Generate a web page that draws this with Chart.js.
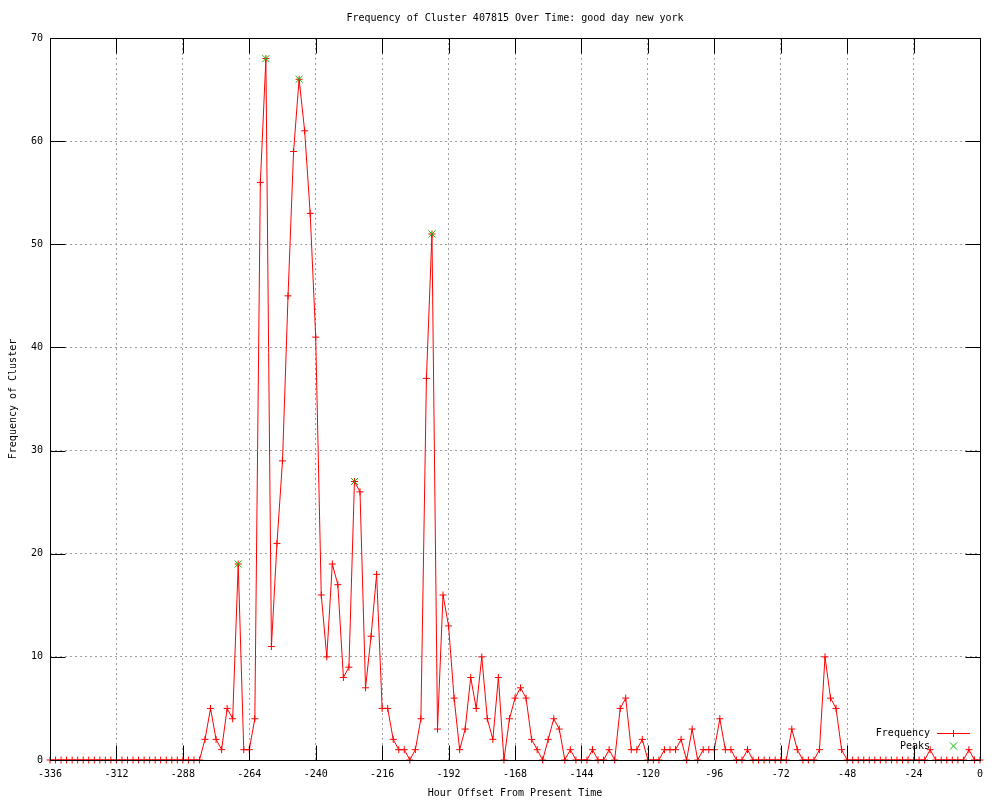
<!DOCTYPE html>
<html>
<head>
<meta charset="utf-8">
<script src="https://cdn.jsdelivr.net/npm/chart.js@4.4.1/dist/chart.umd.min.js"></script>
<style>
html,body{margin:0;padding:0;background:#fff;}
#wrap{width:1000px;height:800px;position:relative;}
</style>
</head>
<body>
<div id="wrap"><canvas id="c" width="1000" height="800"></canvas></div>
<script>
const chartTitle = "Frequency of Cluster 407815 Over Time: good day new york";
const xLabel = "Hour Offset From Present Time";
const yLabel = "Frequency of Cluster";

const hours = [
-336,-334,-332,-330,-328,-326,-324,-322,-320,-318,-316,-314,-312,-310,-308,-306,-304,-302,-300,-298,
-296,-294,-292,-290,-288,-286,-284,-282,-280,-278,-276,-274,-272,-270,-268,-266,-264,-262,-260,-258,
-256,-254,-252,-250,-248,-246,-244,-242,-240,-238,-236,-234,-232,-230,-228,-226,-224,-222,-220,-218,
-216,-214,-212,-210,-208,-206,-204,-202,-200,-198,-196,-194,-192,-190,-188,-186,-184,-182,-180,-178,
-176,-174,-172,-170,-168,-166,-164,-162,-160,-158,-156,-154,-152,-150,-148,-146,-144,-142,-140,-138,
-136,-134,-132,-130,-128,-126,-124,-122,-120,-118,-116,-114,-112,-110,-108,-106,-104,-102,-100,-98,
-96,-94,-92,-90,-88,-86,-84,-82,-80,-78,-76,-74,-72,-70,-68,-66,-64,-62,-60,-58,
-56,-54,-52,-50,-48,-46,-44,-42,-40,-38,-36,-34,-32,-30,-28,-26,-24,-22,-20,-18,
-16,-14,-12,-10,-8,-6,-4,-2,0
];

const frequency = [
0,0,0,0,0,0,0,0,0,0,0,0,0,0,0,0,0,0,0,0,
0,0,0,0,0,0,0,0,2,5,2,1,5,4,19,1,1,4,56,68,
11,21,29,45,59,66,61,53,41,16,10,19,17,8,9,27,26,7,12,18,
5,5,2,1,1,0,1,4,37,51,3,16,13,6,1,3,8,5,10,4,
2,8,0,4,6,7,6,2,1,0,2,4,3,0,1,0,0,0,1,0,
0,1,0,5,6,1,1,2,0,0,0,1,1,1,2,0,3,0,1,1,
1,4,1,1,0,0,1,0,0,0,0,0,0,0,3,1,0,0,0,1,
10,6,5,1,0,0,0,0,0,0,0,0,0,0,0,0,0,0,0,1,
0,0,0,0,0,0,1,0,0
];

const peakHours = [-268, -258, -246, -226, -198];
const peakValues = [19, 68, 66, 27, 51];

const xTickMin = -336, xTickMax = 0, xTickStep = 24;
const yTickMin = 0, yTickMax = 70, yTickStep = 10;

const FONT = "'DejaVu Sans Mono', 'Liberation Mono', monospace";
Chart.defaults.font.family = FONT;
Chart.defaults.font.size = 10;
Chart.defaults.color = '#000';

const RED = '#ff0000';
const GREEN = '#00c000';

const gnuplotDecor = {
  id: 'gnuplotDecor',
  afterDraw(chart) {
    const ctx = chart.ctx;
    const a = chart.chartArea;
    const xs = chart.scales.x, ys = chart.scales.y;
    const L = Math.round(a.left) + 0.5, R = Math.round(a.right) + 0.5;
    const T = Math.round(a.top) + 0.5, B = Math.round(a.bottom) + 0.5;
    const TL = 15;
    ctx.save();
    ctx.strokeStyle = '#000';
    ctx.lineWidth = 1;
    ctx.setLineDash([]);
    ctx.beginPath();
    xs.ticks.forEach(t => {
      const p = Math.round(xs.getPixelForValue(t.value)) + 0.5;
      ctx.moveTo(p, B); ctx.lineTo(p, B - TL);
      ctx.moveTo(p, T); ctx.lineTo(p, T + TL);
    });
    ys.ticks.forEach(t => {
      const p = Math.round(ys.getPixelForValue(t.value)) + 0.5;
      ctx.moveTo(L, p); ctx.lineTo(L + TL, p);
      ctx.moveTo(R, p); ctx.lineTo(R - TL, p);
    });
    ctx.stroke();
    ctx.strokeRect(L, T, R - L, B - T);

    // texts
    ctx.fillStyle = '#000';
    ctx.font = '10px ' + FONT;
    ctx.textBaseline = 'middle';
    ctx.textAlign = 'center';
    const cx = (a.left + a.right) / 2;
    ctx.fillText(chartTitle, cx, 18);
    ctx.fillText(xLabel, cx, 793);
    ctx.save();
    ctx.translate(13, (a.top + a.bottom) / 2);
    ctx.rotate(-Math.PI / 2);
    ctx.fillText(yLabel, 0, 0);
    ctx.restore();

    // key
    const ds = chart.data.datasets;
    const freqDs = ds.find(d => d.label === 'Frequency');
    const peakDs = ds.find(d => d.label === 'Peaks');
    ctx.textAlign = 'right';
    ctx.fillText(freqDs.label, 930, 733);
    ctx.fillText(peakDs.label, 930, 746);
    ctx.lineWidth = 1;
    ctx.strokeStyle = RED;
    ctx.beginPath();
    ctx.moveTo(937, 733.5); ctx.lineTo(970, 733.5);
    ctx.moveTo(953.5, 730); ctx.lineTo(953.5, 737);
    ctx.stroke();
    ctx.strokeStyle = GREEN;
    ctx.beginPath();
    ctx.moveTo(950, 742.5); ctx.lineTo(957, 749.5);
    ctx.moveTo(957, 742.5); ctx.lineTo(950, 749.5);
    ctx.stroke();
    ctx.restore();
  }
};

new Chart(document.getElementById('c'), {
  type: 'line',
  data: {
    datasets: [
      {
        label: 'Peaks',
        data: peakHours.map((h, i) => ({x: h, y: peakValues[i]})),
        showLine: false,
        pointStyle: 'crossRot',
        pointRadius: 5,
        pointBorderWidth: 1,
        pointBorderColor: GREEN,
        pointBackgroundColor: GREEN,
        borderColor: GREEN,
        order: 0,
        clip: false
      },
      {
        label: 'Frequency',
        data: hours.map((h, i) => ({x: h, y: frequency[i]})),
        borderColor: RED,
        borderWidth: 1,
        tension: 0,
        pointStyle: 'cross',
        pointRadius: 3.5,
        pointBorderWidth: 1,
        pointBorderColor: RED,
        pointBackgroundColor: RED,
        fill: false,
        order: 1,
        clip: false
      }
    ]
  },
  options: {
    responsive: false,
    animation: false,
    events: [],
    layout: { padding: { left: 0, right: 20, top: 38, bottom: 0 } },
    plugins: { legend: { display: false }, tooltip: { enabled: false }, title: { display: false } },
    scales: {
      x: {
        type: 'linear',
        min: xTickMin, max: xTickMax,
        afterFit(s) { s.height = 40; },
        ticks: { stepSize: xTickStep, autoSkip: false, maxRotation: 0, minRotation: 0, padding: 8,
          color: '#000', font: { size: 10 }, callback: v => String(v) },
        grid: { color: '#a0a0a0', lineWidth: 1, drawTicks: false },
        border: { display: false, dash: [2, 3] }
      },
      y: {
        type: 'linear',
        min: yTickMin, max: yTickMax,
        afterFit(s) { s.width = 50; },
        ticks: { stepSize: yTickStep, padding: 7, color: '#000', font: { size: 10 }, callback: v => String(v) },
        grid: { color: '#a0a0a0', lineWidth: 1, drawTicks: false },
        border: { display: false, dash: [2, 3] }
      }
    }
  },
  plugins: [gnuplotDecor]
});
</script>
</body>
</html>
